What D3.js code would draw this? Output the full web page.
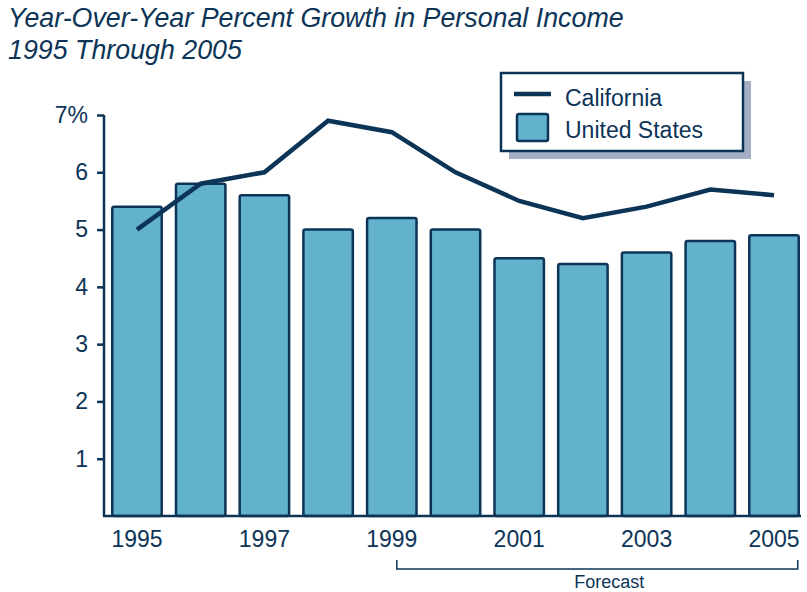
<!DOCTYPE html>
<html>
<head>
<meta charset="utf-8">
<script src="https://cdn.jsdelivr.net/npm/d3@7"></script>
<style>
  html, body { margin: 0; padding: 0; background: #ffffff; }
  svg { display: block; font-family: "Liberation Sans", Arial, sans-serif; }
</style>
</head>
<body>
<svg id="chart" width="807" height="592"></svg>
<script>
// Annual personal income growth, percent
const years = ["1995","1996","1997","1998","1999","2000","2001","2002","2003","2004","2005"];
const usGrowth = [5.4, 5.8, 5.6, 5.0, 5.2, 5.0, 4.5, 4.4, 4.6, 4.8, 4.9];
const caGrowth = [5.0, 5.8, 6.0, 6.9, 6.7, 6.0, 5.5, 5.2, 5.4, 5.7, 5.6];
const yTicks = [1, 2, 3, 4, 5, 6, 7];
const xLabelYears = ["1995","1997","1999","2001","2003","2005"];
const forecastSpan = ["1999", "2005"];

const navy = "#0c3457";
const barFill = "#62b1cd";
const fontFamily = "Liberation Sans, Arial, sans-serif";

const svg = d3.select("#chart");

const x = d3.scaleBand()
  .domain(years)
  .range([104, 807])
  .paddingInner(0.224)
  .paddingOuter(0.13);

const y = d3.scaleLinear().domain([0, 7]).range([516, 115]);

// Title
const title = svg.append("g").attr("fill", navy)
  .style("font-style", "italic").style("font-size", "26.8px");
title.append("text").attr("x", 8).attr("y", 27).text("Year-Over-Year Percent Growth in Personal Income");
title.append("text").attr("x", 8).attr("y", 59).text("1995 Through 2005");

// Bars (United States)
svg.append("g").selectAll("rect")
  .data(years)
  .join("rect")
  .attr("x", d => x(d))
  .attr("y", (d, i) => y(usGrowth[i]))
  .attr("width", x.bandwidth())
  .attr("height", (d, i) => y(0) - y(usGrowth[i]))
  .attr("rx", 2)
  .attr("fill", barFill)
  .attr("stroke", navy)
  .attr("stroke-width", 2.5);

// Y axis
const yAxis = svg.append("g")
  .attr("transform", "translate(104,0)")
  .call(d3.axisLeft(y).tickValues(yTicks).tickSize(7).tickPadding(9)
    .tickFormat(d => d === 7 ? "7%" : d));
yAxis.select(".domain").attr("d", `M0,${y(7)}V${y(0)}`).attr("stroke", navy).attr("stroke-width", 2.5);
yAxis.selectAll(".tick line").attr("stroke", navy).attr("stroke-width", 2.5);
yAxis.selectAll(".tick text").attr("fill", navy).style("font-size", "23px")
  .attr("font-family", fontFamily);

// X axis baseline and labels
svg.append("line")
  .attr("x1", 103).attr("x2", 801)
  .attr("y1", y(0)).attr("y2", y(0))
  .attr("stroke", navy).attr("stroke-width", 2.5);

const xAxis = svg.append("g")
  .attr("transform", `translate(0,${y(0)})`)
  .call(d3.axisBottom(x).tickValues(xLabelYears).tickSize(0).tickPadding(15));
xAxis.select(".domain").remove();
xAxis.selectAll(".tick text").attr("fill", navy).style("font-size", "23px")
  .attr("font-family", fontFamily);

// California line
const line = d3.line()
  .x((d, i) => x(years[i]) + x.bandwidth() / 2)
  .y(d => y(d));
svg.append("path")
  .datum(caGrowth)
  .attr("d", line)
  .attr("fill", "none")
  .attr("stroke", navy)
  .attr("stroke-width", 4.5)
  .attr("stroke-linejoin", "miter");

// Forecast bracket
const fx0 = x(forecastSpan[0]) + x.bandwidth() / 2 + 5;
const fx1 = x(forecastSpan[1]) + x.bandwidth() - 1;
svg.append("path")
  .attr("d", `M${fx0},560V569H${fx1}V560`)
  .attr("fill", "none")
  .attr("stroke", navy)
  .attr("stroke-width", 1.5);
svg.append("text")
  .attr("x", (fx0 + fx1) / 2 + 12)
  .attr("y", 588)
  .attr("text-anchor", "middle")
  .attr("fill", navy)
  .style("font-size", "18px")
  .text("Forecast");

// Legend
const lg = svg.append("g");
lg.append("rect").attr("x", 509).attr("y", 81).attr("width", 242).attr("height", 78).attr("fill", "#a4afc4");
lg.append("rect").attr("x", 501).attr("y", 73).attr("width", 242).attr("height", 78)
  .attr("fill", "#ffffff").attr("stroke", navy).attr("stroke-width", 2.5);
lg.append("line").attr("x1", 514).attr("x2", 551).attr("y1", 94).attr("y2", 94)
  .attr("stroke", navy).attr("stroke-width", 4.5);
lg.append("rect").attr("x", 517).attr("y", 114).attr("width", 31).attr("height", 27).attr("rx", 2)
  .attr("fill", barFill).attr("stroke", navy).attr("stroke-width", 2.5);
lg.append("text").attr("x", 565).attr("y", 106).attr("fill", navy).style("font-size", "23px").text("California");
lg.append("text").attr("x", 565).attr("y", 138).attr("fill", navy).style("font-size", "23px").text("United States");
</script>
</body>
</html>
